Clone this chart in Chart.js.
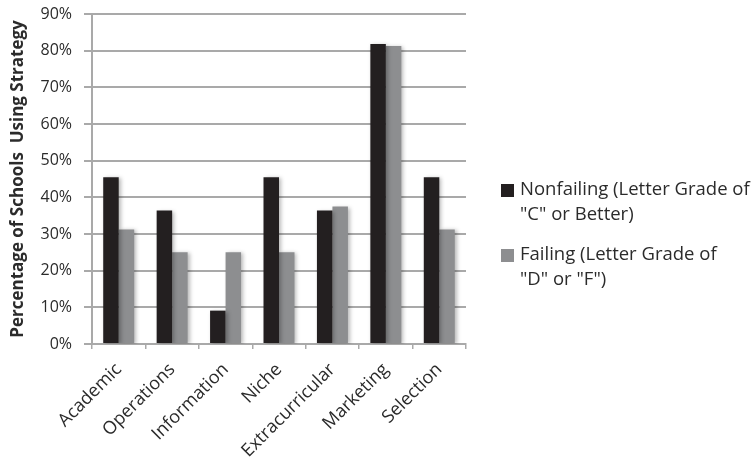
<!DOCTYPE html>
<html>
<head>
<meta charset="utf-8">
<script src="https://cdn.jsdelivr.net/npm/chart.js@4/dist/chart.umd.min.js"></script>
<style>
  html, body { margin: 0; padding: 0; background: #ffffff; }
  #wrap { width: 756px; height: 466px; }
</style>
</head>
<body>
<div id="wrap"><canvas id="chart" width="756" height="466"></canvas></div>
<script>
// Strategy categories along the x axis
const categories = ['Academic', 'Operations', 'Information', 'Niche', 'Extracurricular', 'Marketing', 'Selection'];

// Share of schools using each strategy (%)
const nonfailingValues = [45.5, 36.4, 9.1, 45.5, 36.4, 81.8, 45.5];
const failingValues    = [31.25, 25, 25, 25, 37.5, 81.25, 31.25];

// Series names, split into the lines shown in the legend
const nonfailingName = ['Nonfailing (Letter Grade of', '"C" or Better)'];
const failingName    = ['Failing (Letter Grade of', '"D" or "F")'];

// Y axis tick values
const yTicks = [0, 10, 20, 30, 40, 50, 60, 70, 80, 90];

const darkColor = '#231f20';
const greyColor = '#8d8e90';
const gridColor = '#a9a9a9';
const textColor = '#2b2b2b';

// Soft drop shadow behind the bars
const barShadow = {
  id: 'barShadow',
  beforeDatasetsDraw(chart) {
    const ctx = chart.ctx;
    ctx.save();
    ctx.shadowColor = 'rgba(0,0,0,0.28)';
    ctx.shadowBlur = 4;
    ctx.shadowOffsetX = 2;
    ctx.shadowOffsetY = 1;
  },
  afterDatasetsDraw(chart) {
    chart.ctx.restore();
  }
};

// Legend drawn to the right of the plot with wrapped labels
const sideLegend = {
  id: 'sideLegend',
  afterDraw(chart) {
    const ctx = chart.ctx;
    const area = chart.chartArea;
    const x0 = area.right + 35;
    const lineH = 25;
    const itemGap = 65;
    const top = chart.height / 2 - 43;
    ctx.save();
    ctx.font = '18.5px "Open Sans", sans-serif';
    ctx.textBaseline = 'middle';
    ctx.textAlign = 'left';
    chart.data.datasets.forEach((ds, i) => {
      const y = top + i * itemGap;
      ctx.fillStyle = ds.backgroundColor;
      ctx.fillRect(x0, y - 6, 13, 13);
      ctx.fillStyle = textColor;
      ds.legendLines.forEach((line, j) => {
        ctx.fillText(line, x0 + 19, y + j * lineH);
      });
    });
    ctx.restore();
  }
};

new Chart(document.getElementById('chart'), {
  type: 'bar',
  data: {
    labels: categories,
    datasets: [
      {
        label: nonfailingName.join(' '),
        legendLines: nonfailingName,
        data: nonfailingValues,
        backgroundColor: darkColor,
        borderWidth: 0,
        categoryPercentage: 0.58,
        barPercentage: 1.0
      },
      {
        label: failingName.join(' '),
        legendLines: failingName,
        data: failingValues,
        backgroundColor: greyColor,
        borderWidth: 0,
        categoryPercentage: 0.58,
        barPercentage: 1.0
      }
    ]
  },
  options: {
    responsive: false,
    animation: false,
    layout: { padding: { left: 0, top: 14, right: 290, bottom: 0 } },
    plugins: {
      legend: { display: false },
      tooltip: { enabled: false }
    },
    scales: {
      x: {
        offset: true,
        grid: {
          display: true,
          offset: true,
          drawOnChartArea: false,
          drawTicks: true,
          tickLength: 5,
          color: gridColor,
          lineWidth: 1.5
        },
        border: { display: true, color: gridColor, width: 2 },
        ticks: {
          color: textColor,
          font: { family: '"Open Sans", sans-serif', size: 18 },
          minRotation: 45,
          maxRotation: 45,
          padding: 10,
          autoSkip: false
        },
        afterFit(scale) { scale.height = 122; }
      },
      y: {
        min: 0,
        max: 90,
        afterBuildTicks(scale) { scale.ticks = yTicks.map(v => ({ value: v })); },
        grid: {
          color: gridColor,
          lineWidth: 2,
          tickLength: 8,
          drawTicks: true
        },
        border: { display: true, color: gridColor, width: 2 },
        ticks: {
          color: textColor,
          font: { family: '"Open Sans", sans-serif', size: 16 },
          padding: 12,
          callback: v => v + '%'
        },
        title: {
          display: true,
          text: 'Percentage of Schools  Using Strategy',
          color: textColor,
          font: { family: '"Open Sans", sans-serif', size: 17, weight: 'bold' },
          padding: { top: 8, bottom: 0 }
        },
        afterFit(scale) {
          scale.width = 92;
          scale.paddingTop = 0;
          scale.paddingBottom = 0;
        }
      }
    }
  },
  plugins: [barShadow, sideLegend]
});
</script>
</body>
</html>
